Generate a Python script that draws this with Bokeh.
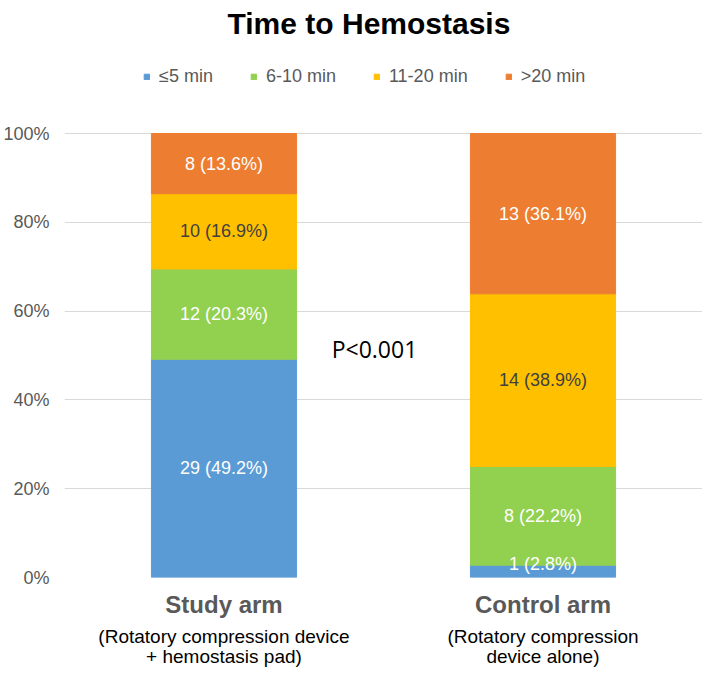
from bokeh.plotting import figure
from bokeh.models import (FactorRange, Range1d, FixedTicker, NumeralTickFormatter,
                          Label, ColumnDataSource, CategoricalAxis, Legend, LegendItem)
from bokeh.core.properties import value
from bokeh.embed import file_html
from bokeh.resources import INLINE

# ---------------- data ----------------
title_text = "Time to Hemostasis"
arms = ["Study arm", "Control arm"]
arm_note_line1 = ["(Rotatory compression device", "(Rotatory compression"]
arm_note_line2 = ["+ hemostasis pad)", "device alone)"]
groups = ["≤5 min", "6-10 min", "11-20 min", ">20 min"]
counts_study = [29, 12, 10, 8]
counts_control = [1, 8, 14, 13]
pct_study = [49.2, 20.3, 16.9, 13.6]
pct_control = [2.8, 22.2, 38.9, 36.1]
p_value_text = "P<0.001"
y_ticks = [0, 0.2, 0.4, 0.6, 0.8, 1.0]

# ---------------- styles ----------------
colors = ["#5B9BD5", "#92D050", "#FFC000", "#ED7D31"]
label_colors = ["#FFFFFF", "#FFFFFF", "#404040", "#FFFFFF"]
FONT = "Liberation Sans"
GREY = "#595959"

TOP, BOTTOM, LEFT, RIGHT = 47, 99, 62, 0
BAR_AREA_H = 444          # pixels for 0..100 %
HEADROOM_PX = 86          # blank space above 100 % that holds the legend
FRAME_W = 638
FRAME_H = BAR_AREA_H + HEADROOM_PX

totals = [sum(counts_study), sum(counts_control)]
keys = ["g%d" % i for i in range(len(groups))]
data = {"arm": arms}
for i, k in enumerate(keys):
    data[k] = [counts_study[i] / totals[0], counts_control[i] / totals[1]]
source = ColumnDataSource(data)

p = figure(x_range=FactorRange(*arms),
           y_range=Range1d(0, 1 + HEADROOM_PX / BAR_AREA_H),
           frame_width=FRAME_W, frame_height=FRAME_H,
           output_backend="svg", toolbar_location=None,
           min_border_top=TOP, min_border_bottom=BOTTOM,
           min_border_left=LEFT, min_border_right=RIGHT,
           title=title_text)
p.outline_line_color = None
p.background_fill_color = "white"
p.border_fill_color = "white"

p.title.align = "left"
p.title.offset = 163
p.title.text_font = FONT
p.title.text_font_size = "30px"
p.title.text_font_style = "bold"
p.title.text_color = "#000000"
p.title.standoff = 12
p.title.vertical_align = "top"

# extra ranges so the description lines sit under the same bars
p.extra_x_ranges = {"note1": FactorRange(*arm_note_line1),
                    "note2": FactorRange(*arm_note_line2)}

renderers = p.vbar_stack(keys, x="arm", width=0.455, color=colors, source=source)

# segment labels
lx, ly, lt, lc = [], [], [], []
for a_i, (cnts, pcts) in enumerate([(counts_study, pct_study), (counts_control, pct_control)]):
    base = 0.0
    for i in range(len(groups)):
        frac = cnts[i] / totals[a_i]
        mid = base + frac / 2
        lx.append(arms[a_i])
        ly.append(max(mid, 0.03))
        lt.append("%d (%.1f%%)" % (cnts[i], pcts[i]))
        lc.append(label_colors[i])
        base += frac
lsrc = ColumnDataSource(dict(x=lx, y=ly, text=lt, color=lc))
p.text(x="x", y="y", text="text", text_color="color", source=lsrc,
       text_align="center", text_baseline="middle",
       text_font=value(FONT), text_font_size="18px")

# y axis / grid
p.xgrid.visible = False
p.ygrid.grid_line_color = "#D9D9D9"
p.ygrid.grid_line_width = 1
p.yaxis.ticker = FixedTicker(ticks=y_ticks)
p.yaxis.formatter = NumeralTickFormatter(format="0%")
p.yaxis.axis_line_color = None
p.yaxis.major_tick_line_color = None
p.yaxis.minor_tick_line_color = None
p.yaxis.major_tick_out = 0
p.yaxis.major_tick_in = 0
p.yaxis.major_label_standoff = 15
p.yaxis.major_label_text_font = FONT
p.yaxis.major_label_text_font_size = "18px"
p.yaxis.major_label_text_color = GREY

# x axes: arm name + two lines of description
def style_cat_axis(ax, size, bold, color, standoff):
    ax.axis_line_color = None
    ax.major_tick_line_color = None
    ax.minor_tick_line_color = None
    ax.major_tick_out = 0
    ax.major_tick_in = 0
    ax.major_label_standoff = standoff
    ax.major_label_text_font = FONT
    ax.major_label_text_font_size = size
    ax.major_label_text_font_style = "bold" if bold else "normal"
    ax.major_label_text_color = color

style_cat_axis(p.xaxis[0], "24px", True, GREY, 13)
ax2 = CategoricalAxis(x_range_name="note1")
ax3 = CategoricalAxis(x_range_name="note2")
style_cat_axis(ax2, "19px", False, "#000000", 5)
style_cat_axis(ax3, "19px", False, "#000000", -4)
p.add_layout(ax2, "below")
p.add_layout(ax3, "below")

# legend in the blank band above 100 %
lg = Legend(items=[LegendItem(label=g, renderers=[r]) for g, r in zip(groups, renderers)],
            orientation="horizontal", location=(79, BAR_AREA_H + 46),
            glyph_width=7, glyph_height=7, label_standoff=9, spacing=37,
            padding=0, margin=0, border_line_color=None, background_fill_alpha=0,
            label_text_font=FONT, label_text_font_size="18px",
            label_text_color=GREY, label_height=20)
p.add_layout(lg)

# p-value annotation (inside the plot area)
mid_x = len(arms) / 2
p.add_layout(Label(x=mid_x, y=0.514, x_offset=-9, text=p_value_text,
                   text_align="center", text_baseline="middle",
                   text_font="Open Sans", text_font_size="23px", text_color="#000000"))

open("out.html", "w").write(file_html(p, INLINE))
